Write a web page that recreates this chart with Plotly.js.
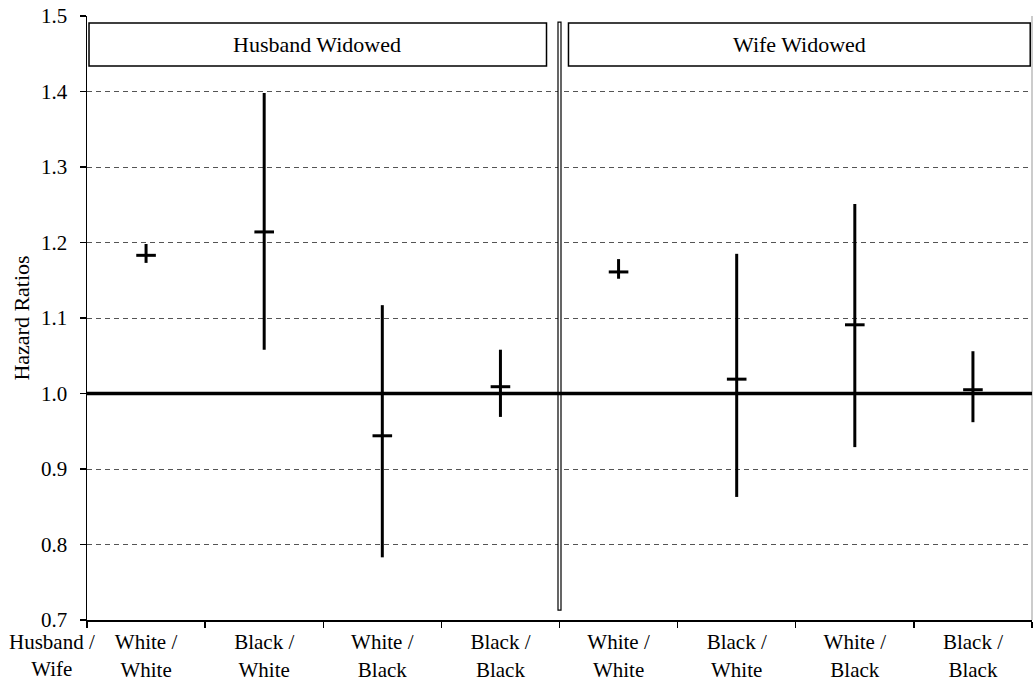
<!DOCTYPE html>
<html>
<head>
<meta charset="utf-8">
<script src="https://cdn.plot.ly/plotly-3.0.1.min.js"></script>
<style>html,body{margin:0;padding:0;background:#fff;}#chart{width:1033px;height:681px;}</style>
</head>
<body>
<div id="chart"></div>
<script>
// Category labels (two lines each)
const labelLine1 = ['White /', 'Black /', 'White /', 'Black /', 'White /', 'Black /', 'White /', 'Black /'];
const labelLine2 = ['White', 'White', 'Black', 'Black', 'White', 'White', 'Black', 'Black'];
const axisCaption1 = 'Husband /';
const axisCaption2 = 'Wife';
const panelTitles = ['Husband Widowed', 'Wife Widowed'];

// Hazard ratios with confidence bounds
const husbandEst = [1.183, 1.214, 0.944, 1.009];
const husbandLo  = [1.173, 1.058, 0.783, 0.969];
const husbandHi  = [1.198, 1.398, 1.117, 1.058];
const wifeEst = [1.161, 1.019, 1.091, 1.005];
const wifeLo  = [1.152, 0.863, 0.929, 0.962];
const wifeHi  = [1.178, 1.185, 1.251, 1.056];

const yTicks = [0.7, 0.8, 0.9, 1.0, 1.1, 1.2, 1.3, 1.4, 1.5];
const refValue = 1.0;

const est = husbandEst.concat(wifeEst);
const lo = husbandLo.concat(wifeLo);
const hi = husbandHi.concat(wifeHi);
const xs = est.map((_, i) => i + 0.5);
const boundaries = [0, 1, 2, 3, 4, 5, 6, 7, 8];

const FONT = 'Liberation Serif, Times New Roman, serif';

const trace = {
  type: 'scatter',
  mode: 'markers',
  x: xs,
  y: est,
  marker: {symbol: 'line-ew', size: 14, color: '#000', line: {color: '#000', width: 3}},
  error_y: {
    type: 'data', symmetric: false,
    array: hi.map((h, i) => h - est[i]),
    arrayminus: est.map((e, i) => e - lo[i]),
    thickness: 3, width: 0, color: '#000'
  },
  hoverinfo: 'x+y',
  showlegend: false,
  cliponaxis: false
};

const lblFont = {family: FONT, size: 21, color: '#000'};
const annotations = [
  {x: -0.037, y: 0, xref: 'paper', yref: 'paper', yanchor: 'top', xanchor: 'center',
    yshift: -8.5, borderpad: 0, text: axisCaption1 + '<br>' + axisCaption2, showarrow: false, font: lblFont},
  {x: 1.95, y: 1.462, xref: 'x', yref: 'y', text: panelTitles[0], showarrow: false,
    font: {family: FONT, size: 22, color: '#000'}},
  {x: 6.03, y: 1.462, xref: 'x', yref: 'y', text: panelTitles[1], showarrow: false,
    font: {family: FONT, size: 22, color: '#000'}}
];

const shapes = [
  // header boxes
  {type: 'rect', xref: 'x', yref: 'y', x0: 0.017, x1: 3.89, y0: 1.4338, y1: 1.4907,
    line: {color: '#000', width: 1.5}, fillcolor: '#fff', layer: 'above'},
  {type: 'rect', xref: 'x', yref: 'y', x0: 4.076, x1: 7.985, y0: 1.4338, y1: 1.4907,
    line: {color: '#000', width: 1.5}, fillcolor: '#fff', layer: 'above'},
  // double divider
  {type: 'rect', xref: 'x', yref: 'y', xsizemode: 'pixel', xanchor: 4, x0: -1.5, x1: 1.5,
    y0: 0.713, y1: 1.492, line: {color: '#000', width: 1.2}, fillcolor: '#fff', layer: 'above'},
  // reference line
  {type: 'line', xref: 'paper', yref: 'y', x0: 0, x1: 1, y0: refValue, y1: refValue,
    line: {color: '#000', width: 3.5}, layer: 'above'},
  // right border
  {type: 'line', xref: 'paper', yref: 'paper', x0: 1, x1: 1, y0: 0, y1: 1,
    line: {color: '#999', width: 1}, layer: 'below'}
];

const layout = {
  width: 1033, height: 681,
  margin: {l: 87, r: 1, t: 16, b: 61, pad: 0},
  paper_bgcolor: '#fff', plot_bgcolor: '#fff',
  font: {family: FONT, size: 21, color: '#000'},
  showlegend: false,
  xaxis: {
    range: [0, 8], tickvals: xs, ticktext: xs.map((_, i) => labelLine1[i] + '<br>' + labelLine2[i]),
    ticks: '', tickfont: lblFont, ticklabelstandoff: 2,
    minor: {tickvals: boundaries, ticks: 'outside', ticklen: 6, tickwidth: 1.3, tickcolor: '#000', showgrid: false},
    showgrid: false, zeroline: false, showline: true, linecolor: '#000', linewidth: 2,
    automargin: false, fixedrange: true
  },
  yaxis: {
    range: [0.7, 1.5], tickvals: yTicks, ticktext: yTicks.map(v => v.toFixed(1)),
    ticks: 'outside', ticklen: 6, tickwidth: 1.3, tickcolor: '#000',
    tickfont: {family: FONT, size: 21, color: '#000'},
    ticklabelstandoff: 8,
    showgrid: true, gridcolor: '#555', gridwidth: 1, griddash: '5px,4px',
    zeroline: false, showline: true, linecolor: '#000', linewidth: 1.5,
    title: {text: 'Hazard Ratios', font: {family: FONT, size: 22, color: '#000'}, standoff: 5},
    automargin: false, fixedrange: true
  },
  shapes: shapes,
  annotations: annotations
};

Plotly.newPlot('chart', [trace], layout, {displayModeBar: false, staticPlot: true});
</script>
</body>
</html>
